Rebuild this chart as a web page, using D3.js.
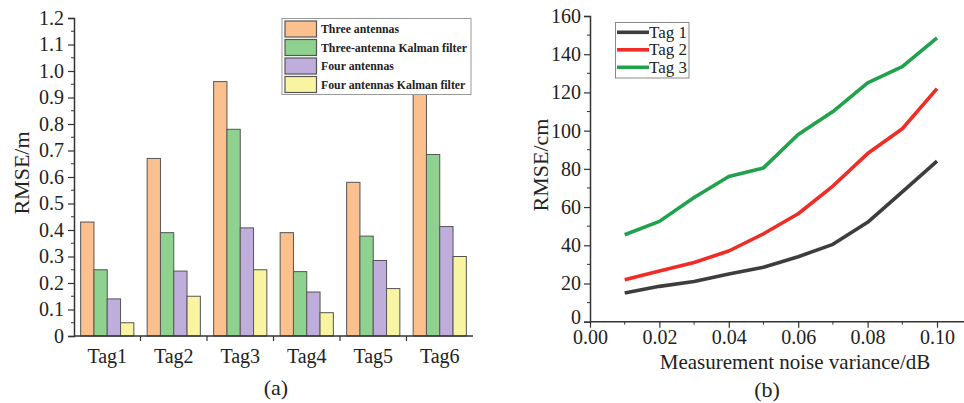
<!DOCTYPE html>
<html><head><meta charset="utf-8">
<script src="https://cdn.jsdelivr.net/npm/d3@7"></script>
<style>body{margin:0;background:#fff}svg{display:block}text{font-family:"Liberation Serif","Times New Roman",serif;fill:#222}</style>
</head><body><svg id="c" width="964" height="403"></svg>
<script>
// ---- Data (a) ----
const tags = ["Tag1","Tag2","Tag3","Tag4","Tag5","Tag6"];
const seriesA = ["Three antennas","Three-antenna Kalman filter","Four antennas","Four antennas Kalman filter"];
const threeAnt = [0.43,0.67,0.96,0.39,0.58,0.95];
const threeKal = [0.25,0.39,0.78,0.243,0.377,0.685];
const fourAnt  = [0.14,0.245,0.408,0.166,0.285,0.413];
const fourKal  = [0.05,0.15,0.25,0.088,0.179,0.30];
const yTicksA = [0,0.1,0.2,0.3,0.4,0.5,0.6,0.7,0.8,0.9,1.0,1.1,1.2];
const colorsA = ["#fcc08f","#8fd18f","#bfaedb","#f8f4a2"];
// ---- Data (b) ----
const noise = [0.01,0.02,0.03,0.04,0.05,0.06,0.07,0.08,0.09,0.10];
const tag1 = [15,18.5,21,25,28.5,34,40.5,52,68,84];
const tag2 = [22,26.5,31,37,46,56.5,71,88,101,122];
const tag3 = [45.5,52.5,65,76,80.5,98,110,125,133.5,148.5];
const seriesB = ["Tag 1","Tag 2","Tag 3"];
const colorsB = ["#3d3d3d","#ef2d26","#20a24c"];
const xTicksB = [0,0.02,0.04,0.06,0.08,0.10];
const yTicksB = [0,20,40,60,80,100,120,140,160];

const svg = d3.select("#c");
const axisCol = "#333";

// ================= Chart (a) =================
const xA = d3.scaleBand().domain(tags).range([74,473]).padding(0);
const xInner = d3.scaleBand().domain(seriesA).range([xA.bandwidth()*0.1, xA.bandwidth()*0.9]);
const yA = d3.scaleLinear().domain([0,1.2]).range([336,18]);
const valsA = [threeAnt,threeKal,fourAnt,fourKal];

const gA = svg.append("g");
tags.forEach((t,i)=>{
  seriesA.forEach((s,j)=>{
    gA.append("rect")
      .attr("x", xA(t)+xInner(s)).attr("width", xInner.bandwidth())
      .attr("y", yA(valsA[j][i])).attr("height", yA(0)-yA(valsA[j][i]))
      .attr("fill", colorsA[j]).attr("stroke","#555").attr("stroke-width",1);
  });
});
// y axis
const yAxA = d3.axisLeft(yA).tickValues(yTicksA).tickSize(6).tickPadding(4)
  .tickFormat(d=> d===0 ? "0" : d3.format(".1f")(d));
const gyA = gA.append("g").attr("transform","translate(74,0)").call(yAxA);
gyA.select(".domain").attr("stroke",axisCol).attr("stroke-width",1.5);
gyA.selectAll(".tick line").attr("stroke",axisCol).attr("stroke-width",1.2);
gyA.selectAll(".tick text").attr("font-size",20).style("font-family","Liberation Serif").attr("fill","#222");
const minorA = d3.range(0.05,1.2,0.1);
gA.append("g").selectAll("line").data(minorA).join("line")
  .attr("x1",74).attr("x2",71).attr("y1",d=>yA(d)).attr("y2",d=>yA(d))
  .attr("stroke",axisCol).attr("stroke-width",1);
// x axis
gA.append("line").attr("x1",74).attr("x2",473).attr("y1",yA(0)).attr("y2",yA(0))
  .attr("stroke",axisCol).attr("stroke-width",1.5);
gA.append("g").selectAll("line").data(tags.slice(1)).join("line")
  .attr("x1",d=>xA(d)).attr("x2",d=>xA(d)).attr("y1",yA(0)).attr("y2",yA(0)+5)
  .attr("stroke",axisCol).attr("stroke-width",1.2);
gA.append("g").selectAll("text").data(tags).join("text")
  .attr("x",d=>xA(d)+xA.bandwidth()/2).attr("y",363).attr("text-anchor","middle")
  .attr("font-size",20).text(d=>d);
gA.append("text").attr("transform","translate(29,173) rotate(-90)").attr("text-anchor","middle")
  .attr("font-size",22).text("RMSE/m");
gA.append("text").attr("x",276).attr("y",395).attr("text-anchor","middle").attr("font-size",22).text("(a)");
// legend (a)
const lgA = gA.append("g");
lgA.append("rect").attr("x",282).attr("y",18.5).attr("width",189).attr("height",76)
  .attr("fill","#fff").attr("stroke","#999").attr("stroke-width",1);
seriesA.forEach((s,j)=>{
  const y0 = 21 + j*18.5;
  lgA.append("rect").attr("x",285).attr("y",y0).attr("width",31.5).attr("height",16)
    .attr("fill",colorsA[j]).attr("stroke","#555").attr("stroke-width",1.2);
  lgA.append("text").attr("x",321).attr("y",y0+12).attr("font-size",11.8).attr("font-weight","bold")
    .attr("fill","#333").text(s);
});

// ================= Chart (b) =================
const xB = d3.scaleLinear().domain([0,0.1]).range([590,937]);
const yB = d3.scaleLinear().domain([0,160]).range([321.7,16]);
const gB = svg.append("g");
const line = d3.line().x((d,i)=>xB(noise[i])).y(d=>yB(d));
[tag1,tag2,tag3].forEach((arr,k)=>{
  gB.append("path").datum(arr).attr("d",line).attr("fill","none")
    .attr("stroke",colorsB[k]).attr("stroke-width",3.6).attr("stroke-linejoin","round");
});
// axes
gB.append("line").attr("x1",590).attr("x2",964).attr("y1",yB(0)).attr("y2",yB(0))
  .attr("stroke",axisCol).attr("stroke-width",1.5);
const xAxB = d3.axisBottom(xB).tickValues(xTicksB).tickSize(6).tickPadding(2).tickFormat(d3.format(".2f"));
const gxB = gB.append("g").attr("transform",`translate(0,${yB(0)})`).call(xAxB);
gxB.select(".domain").remove();
gxB.selectAll(".tick line").attr("stroke",axisCol).attr("stroke-width",1.2);
gxB.selectAll(".tick text").attr("font-size",20).style("font-family","Liberation Serif").attr("fill","#222");
gB.append("g").selectAll("line").data(noise.filter((d,i)=>i%2===0)).join("line")
  .attr("x1",d=>xB(d)).attr("x2",d=>xB(d)).attr("y1",yB(0)).attr("y2",yB(0)+3)
  .attr("stroke",axisCol).attr("stroke-width",1);
const yAxB = d3.axisLeft(yB).tickValues(yTicksB).tickSize(6).tickPadding(3);
const gyB = gB.append("g").attr("transform","translate(590,0)").call(yAxB);
gyB.select(".domain").attr("stroke",axisCol).attr("stroke-width",1.5);
gyB.selectAll(".tick line").attr("stroke",axisCol).attr("stroke-width",1.2);
gyB.selectAll(".tick text").attr("font-size",20).style("font-family","Liberation Serif").attr("fill","#222");
gyB.selectAll(".tick").filter(d=>d===0).select("text").attr("dy","0.1em");
gB.append("g").selectAll("line").data(d3.range(10,160,20)).join("line")
  .attr("x1",590).attr("x2",587).attr("y1",d=>yB(d)).attr("y2",d=>yB(d))
  .attr("stroke",axisCol).attr("stroke-width",1);
gB.append("text").attr("transform","translate(548,165) rotate(-90)").attr("text-anchor","middle")
  .attr("font-size",22).text("RMSE/cm");
gB.append("text").attr("x",795).attr("y",369).attr("text-anchor","middle").attr("font-size",21)
  .text("Measurement noise variance/dB");
gB.append("text").attr("x",767).attr("y",397).attr("text-anchor","middle").attr("font-size",22).text("(b)");
// legend (b)
const lgB = gB.append("g");
lgB.append("rect").attr("x",615.5).attr("y",22.5).attr("width",73.5).attr("height",55.5)
  .attr("fill","#fff").attr("stroke","#888").attr("stroke-width",1);
seriesB.forEach((s,k)=>{
  const y0 = 32.3 + k*17.5;
  lgB.append("line").attr("x1",617).attr("x2",649).attr("y1",y0).attr("y2",y0)
    .attr("stroke",colorsB[k]).attr("stroke-width",3.6);
  lgB.append("text").attr("x",649).attr("y",y0+5.5).attr("font-size",17).text(s);
});
</script></body></html>
